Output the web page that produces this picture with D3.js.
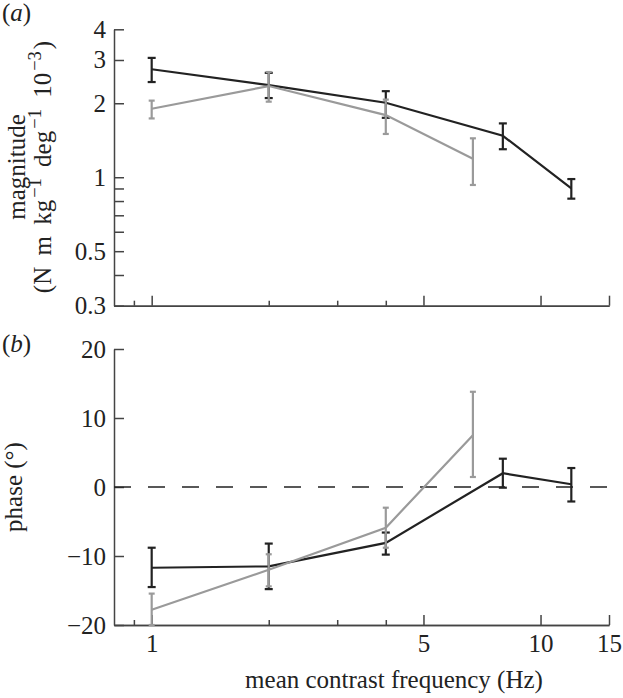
<!DOCTYPE html>
<html><head><meta charset="utf-8">
<script src="https://cdn.jsdelivr.net/npm/d3@7"></script>
</head>
<body style="margin:0;background:#fff">
<svg id="chart" width="623" height="698"></svg>
<script>
// ---- data ----
const freqBlack = [1, 2, 4, 8, 12];
const magBlack   = [2.75, 2.37, 2.01, 1.475, 0.90];
const magBlackLo = [2.44, 2.10, 1.745, 1.30, 0.818];
const magBlackHi = [3.06, 2.66, 2.24, 1.656, 0.983];
const freqGrey = [1, 2, 4, 6.7];
const magGrey   = [1.90, 2.35, 1.79, 1.19];
const magGreyLo = [1.735, 2.03, 1.50, 0.93];
const magGreyHi = [2.05, 2.68, 2.07, 1.44];
const phaseBlack   = [-11.7, -11.5, -8.1, 2.0, 0.4];
const phaseBlackLo = [-14.5, -14.8, -9.8, -0.1, -2.1];
const phaseBlackHi = [-8.8, -8.2, -6.6, 4.1, 2.75];
const phaseGrey   = [-17.8, -12.0, -5.9, 7.5];
const phaseGreyLo = [-20.0, -14.4, -8.8, 1.45];
const phaseGreyHi = [-15.45, -9.75, -3.0, 13.8];
const xMajorTicks = [1, 5, 10, 15];
const xMinorTicks = [0.9, 2, 3, 4];
const magTicks = [0.3, 0.4, 0.5, 0.6, 0.7, 0.8, 0.9, 1, 2, 3, 4];
const magLabels = [0.3, 0.5, 1, 2, 3, 4];
const phaseTicks = [-20, -10, 0, 10, 20];

const svg = d3.select("#chart");
const BLACK = "#222", GREY = "#9a9a9a", AX = "#444";
const FS = 25;
const SERIF = "'Liberation Serif', monospace";

const x = d3.scaleLog().domain([0.8, 15]).range([114, 609]);
const yMag = d3.scaleLog().domain([0.3, 4]).range([305.7, 29.3]);
const yPh = d3.scaleLinear().domain([-20, 20]).range([625, 349]);

function styleAxis(g) {
  g.attr("font-family", null);
  g.select(".domain").attr("stroke", AX).attr("stroke-width", 1.5);
  g.selectAll(".tick line").attr("stroke", AX).attr("stroke-width", 1.5);
  g.selectAll("text").attr("font-size", FS).attr("fill", "#222").style("font-family", SERIF);
}

function xAxes(yPos) {
  const gMaj = svg.append("g").attr("transform", `translate(0,${yPos})`)
    .call(d3.axisBottom(x).tickValues(xMajorTicks).tickSizeInner(-10).tickSizeOuter(0).tickFormat(d3.format("d")).tickPadding(9));
  const gMin = svg.append("g").attr("transform", `translate(0,${yPos})`)
    .call(d3.axisBottom(x).tickValues(xMinorTicks).tickSizeInner(-5).tickSizeOuter(0).tickFormat(""));
  styleAxis(gMaj); styleAxis(gMin);
  return gMaj;
}

// Panel a
const gTopX = xAxes(305.7);
gTopX.selectAll("text").remove();
const gMagY = svg.append("g").attr("transform", "translate(114,0)")
  .call(d3.axisLeft(yMag).tickValues(magTicks).tickSizeInner(-10).tickSizeOuter(0).tickPadding(8)
    .tickFormat(d => magLabels.includes(d) ? String(d) : ""));
styleAxis(gMagY);
// Panel b
xAxes(625);
const gPhY = svg.append("g").attr("transform", "translate(114,0)")
  .call(d3.axisLeft(yPh).tickValues(phaseTicks).tickSizeInner(-10).tickSizeOuter(0).tickPadding(8));
styleAxis(gPhY);

// zero dashed line
svg.append("line").attr("x1", x(0.8)).attr("x2", x(15)).attr("y1", yPh(0)).attr("y2", yPh(0))
  .attr("stroke", "#222").attr("stroke-width", 1.3).attr("stroke-dasharray", "17,17");

function series(xs, ys, lo, hi, yScale, color, capW) {
  const pts = xs.map((f, i) => [x(f), yScale(ys[i])]);
  svg.append("path").attr("d", d3.line()(pts)).attr("fill", "none")
    .attr("stroke", color).attr("stroke-width", 2.2);
  const g = svg.append("g").attr("stroke", color).attr("stroke-width", 2.2);
  xs.forEach((f, i) => {
    const cx = x(f), t = yScale(hi[i]), b = yScale(lo[i]);
    g.append("line").attr("x1", cx).attr("x2", cx).attr("y1", t).attr("y2", b);
    g.append("line").attr("x1", cx - capW).attr("x2", cx + capW).attr("y1", t).attr("y2", t);
    g.append("line").attr("x1", cx - capW).attr("x2", cx + capW).attr("y1", b).attr("y2", b);
  });
}
series(freqBlack, magBlack, magBlackLo, magBlackHi, yMag, BLACK, 4);
series(freqGrey, magGrey, magGreyLo, magGreyHi, yMag, GREY, 3);
series(freqBlack, phaseBlack, phaseBlackLo, phaseBlackHi, yPh, BLACK, 4);
series(freqGrey, phaseGrey, phaseGreyLo, phaseGreyHi, yPh, GREY, 3);

function txt() { return svg.append("text").style("font-family", SERIF).attr("fill", "#222"); }

// panel labels
function panelLabel(letter, yb) {
  const t = txt().attr("x", 2).attr("y", yb).attr("font-size", FS);
  t.append("tspan").text("(");
  t.append("tspan").attr("font-style", "italic").text(letter);
  t.append("tspan").text(")");
}
panelLabel("a", 21);
panelLabel("b", 352);

// axis titles
txt().attr("transform", "translate(25,167) rotate(-90)")
  .attr("text-anchor", "middle").attr("font-size", FS).text("magnitude");
const magT2 = txt().attr("transform", "translate(51,167) rotate(-90)")
  .attr("text-anchor", "middle").attr("font-size", FS).style("word-spacing", "5px");
const SUP = FS * 0.74, SH = 10;
magT2.append("tspan").text("(N m kg");
magT2.append("tspan").attr("font-size", SUP).attr("dx", 2).attr("dy", -SH).text("−1");
magT2.append("tspan").attr("dy", SH).text(" deg");
magT2.append("tspan").attr("font-size", SUP).attr("dx", 2).attr("dy", -SH).text("−1");
magT2.append("tspan").attr("dy", SH).text(" 10");
magT2.append("tspan").attr("font-size", SUP).attr("dx", 2).attr("dy", -SH).text("−3");
magT2.append("tspan").attr("dx", 2).attr("dy", SH).text(")");

txt().attr("transform", "translate(22,487) rotate(-90)")
  .attr("text-anchor", "middle").attr("font-size", FS).text("phase (°)");

txt().attr("x", 394).attr("y", 688)
  .attr("text-anchor", "middle").attr("font-size", FS).text("mean contrast frequency (Hz)");
</script>
</body></html>
